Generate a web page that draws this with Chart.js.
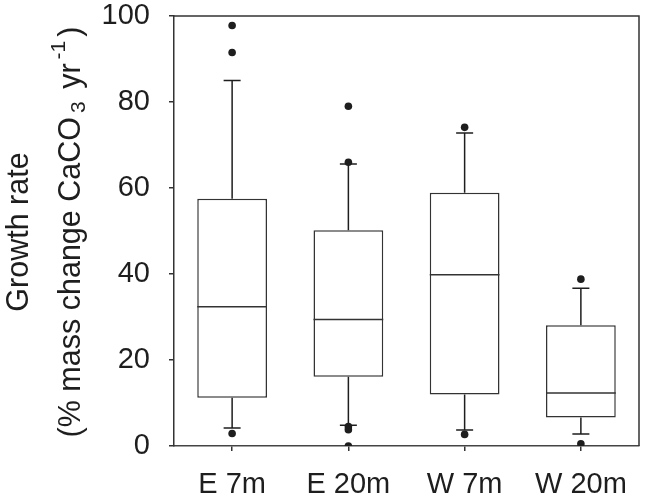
<!DOCTYPE html>
<html>
<head>
<meta charset="utf-8">
<script src="https://cdn.jsdelivr.net/npm/chart.js@4.4.1/dist/chart.umd.min.js"></script>
<style>
    html, body { margin: 0; padding: 0; background: #fff; }
    #wrap { width: 647px; height: 503px; position: relative; }
</style>
</head>
<body>
<div id="wrap"><canvas id="growthChart"></canvas></div>
<script>
// box plot data (growth rate, % mass change CaCO3 per year)
const categories = ['E 7m', 'E 20m', 'W 7m', 'W 20m'];
const q1 = [11.2, 16.1, 12.0, 6.6];
const median = [32.4, 29.4, 39.8, 12.3];
const q3 = [57.5, 50.2, 58.9, 28.1];
const whiskerLow = [4.2, 4.8, 3.7, 2.8];
const whiskerHigh = [85.0, 65.6, 72.8, 36.7];
const outliers = [
    [97.8, 91.5, 2.9],
    [79.0, 66.0, 4.5, 3.8, 0],
    [74.1, 2.7],
    [38.8, 0.5]
];
const yTicks = [0, 20, 40, 60, 80, 100];

const FONT = '"Liberation Sans", Arial, sans-serif';
const INK = '#1e1e1e';

// whiskers, medians, frame and the y title (with sub/superscript)
const boxExtras = {
    id: 'boxExtras',
    beforeDatasetsDraw(chart) {
        const { ctx, scales: { x, y } } = chart;
        const cap = 8.5;
        ctx.save();
        ctx.strokeStyle = INK;
        ctx.lineWidth = 1.5;
        categories.forEach((c, i) => {
            const px = x.getPixelForValue(i);
            ctx.beginPath();
            ctx.moveTo(px, y.getPixelForValue(q3[i]));
            ctx.lineTo(px, y.getPixelForValue(whiskerHigh[i]));
            ctx.moveTo(px - cap, y.getPixelForValue(whiskerHigh[i]));
            ctx.lineTo(px + cap, y.getPixelForValue(whiskerHigh[i]));
            ctx.moveTo(px, y.getPixelForValue(q1[i]));
            ctx.lineTo(px, y.getPixelForValue(whiskerLow[i]));
            ctx.moveTo(px - cap, y.getPixelForValue(whiskerLow[i]));
            ctx.lineTo(px + cap, y.getPixelForValue(whiskerLow[i]));
            ctx.stroke();
        });
        ctx.restore();
    },
    afterDatasetsDraw(chart) {
        const { ctx, chartArea: a, scales: { y } } = chart;
        const meta = chart.getDatasetMeta(0);
        ctx.save();
        ctx.strokeStyle = '#333';
        ctx.lineWidth = 1.5;
        meta.data.forEach((bar, i) => {
            const py = y.getPixelForValue(median[i]);
            ctx.beginPath();
            ctx.moveTo(bar.x - bar.width / 2, py);
            ctx.lineTo(bar.x + bar.width / 2, py);
            ctx.stroke();
        });
        // top and right side of the frame
        ctx.beginPath();
        ctx.moveTo(a.left, a.top);
        ctx.lineTo(a.right, a.top);
        ctx.lineTo(a.right, a.bottom);
        ctx.stroke();
        ctx.restore();
    },
    afterDraw(chart) {
        const { ctx, chartArea: a } = chart;
        const big = '30.5px ' + FONT;
        const small = '21px ' + FONT;
        const cy = (a.top + a.bottom) / 2 + 1;
        ctx.save();
        ctx.fillStyle = INK;
        ctx.textBaseline = 'alphabetic';

        // line 1
        ctx.save();
        ctx.translate(28, cy);
        ctx.rotate(-Math.PI / 2);
        ctx.font = big;
        ctx.textAlign = 'center';
        ctx.fillText('Growth rate', 0, 0);
        ctx.restore();

        // line 2
        const gap = 4;
        const parts = [
            { t: '(% mass change CaCO', f: big, dy: 0 },
            { t: '3', f: small, dy: 5 },
            { t: ' yr', f: big, dy: 0 },
            { t: '-1', f: small, dy: -15 },
            { t: ')', f: big, dy: 0 }
        ];
        let total = 0;
        parts.forEach(p => { ctx.font = p.f; p.w = ctx.measureText(p.t).width; total += p.w; });
        total += gap * (parts.length - 1);
        ctx.save();
        ctx.translate(80, cy);
        ctx.rotate(-Math.PI / 2);
        ctx.textAlign = 'left';
        let cx = -total / 2;
        parts.forEach(p => {
            ctx.font = p.f;
            ctx.fillText(p.t, cx, p.dy);
            cx += p.w + gap;
        });
        ctx.restore();
        ctx.restore();
    }
};

const ctx = document.getElementById('growthChart');
new Chart(ctx, {
    data: {
        labels: categories,
        datasets: [
            {
                type: 'bar',
                data: q1.map((v, i) => [v, q3[i]]),
                backgroundColor: '#ffffff',
                borderColor: '#333',
                borderWidth: 1.5,
                borderSkipped: false,
                barPercentage: 0.6,
                categoryPercentage: 1
            },
            {
                type: 'scatter',
                data: outliers.flatMap((vals, i) => vals.map(v => ({ x: categories[i], y: v }))),
                backgroundColor: INK,
                borderWidth: 0,
                pointRadius: 3.8,
                pointHoverRadius: 3.8
            }
        ]
    },
    options: {
        responsive: true,
        maintainAspectRatio: false,
        devicePixelRatio: 1,
        animation: false,
        layout: { padding: { top: 16, right: 8, left: 0, bottom: 0 } },
        plugins: {
            legend: { display: false },
            tooltip: { enabled: false }
        },
        scales: {
            x: {
                type: 'category',
                offset: true,
                grid: { offset: false, drawOnChartArea: false, drawTicks: true, tickLength: 5, color: '#333', lineWidth: 1.5 },
                border: { display: true, color: '#444', width: 1.5 },
                ticks: { color: INK, font: { family: FONT, size: 29 }, padding: 17, maxRotation: 0, autoSkip: false },
                afterFit: s => { s.height = 57; s.paddingLeft = 0; s.paddingRight = 0; }
            },
            y: {
                min: 0,
                max: 100,
                afterBuildTicks: s => { s.ticks = yTicks.map(v => ({ value: v })); },
                grid: { drawOnChartArea: false, drawTicks: true, tickLength: 5, color: '#333', lineWidth: 1.5 },
                border: { display: true, color: '#333', width: 1.5 },
                ticks: { color: INK, font: { family: FONT, size: 29 }, padding: 19 },
                afterFit: s => { s.width = 174; s.paddingTop = 0; s.paddingBottom = 0; }
            }
        }
    },
    plugins: [boxExtras]
});
</script>
</body>
</html>
